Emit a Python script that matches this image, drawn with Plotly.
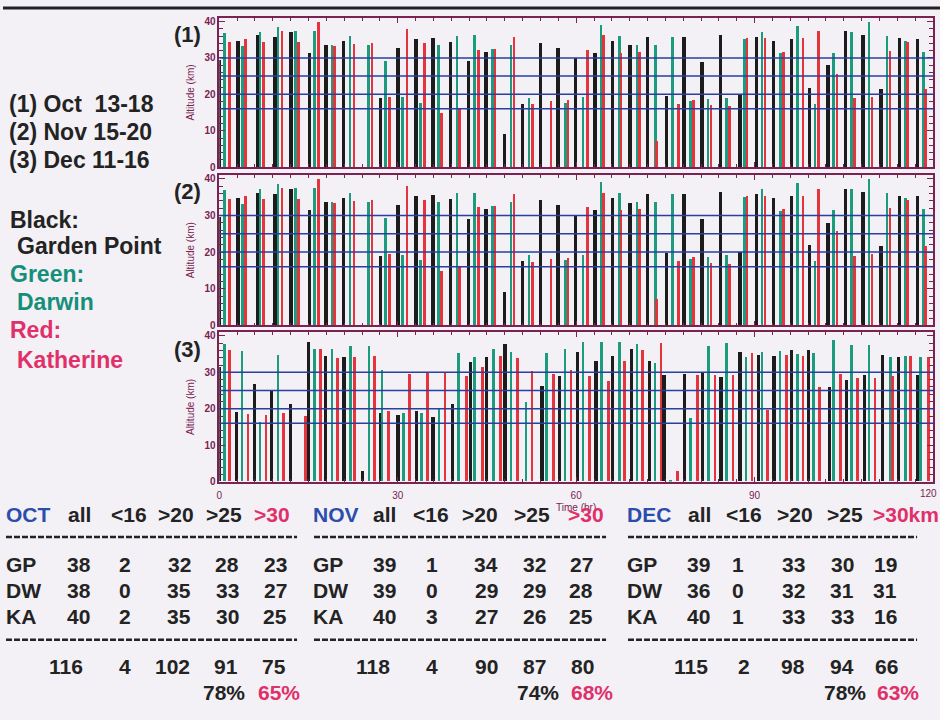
import plotly.graph_objects as go

# ---------------- data ----------------
# Panels (1) and (2): launch time (hr) and max altitude (km) per site
GP1_T = [0, 3.2, 6.5, 9.4, 12.1, 15.2, 18.0, 20.9, 27.1, 30.1, 33.1, 36.0, 38.9, 42.0, 44.9, 48.0, 51.0, 54.1, 57.0, 60.0,
         63.2, 66.2, 69.1, 72.1, 75.3, 78.2, 81.2, 84.3, 87.6, 90.4, 93.2, 96.3, 99.3, 102.4, 105.3, 108.3, 111.3, 114.4, 117.4]
GP1_A = [29.5, 34.7, 36.2, 35.8, 37.1, 31.5, 33.7, 34.7, 18.9, 32.8, 35.3, 35.6, 34.4, 29.1, 31.7, 9.1, 17.5, 34.2, 32.8, 29.9,
         31.5, 34.7, 33.5, 35.8, 19.7, 35.8, 29.0, 36.3, 20.0, 35.9, 34.8, 35.2, 21.9, 28.0, 37.3, 36.4, 21.6, 35.4, 35.3]
DW1_T = [0.9, 3.9, 6.9, 9.9, 12.9, 16.0, 19.0, 22.0, 25.1, 28.0, 30.9, 33.9, 36.9, 40.0, 43.0, 46.0, 49.1, 52.1, 58.3, 61.2,
         64.2, 67.3, 70.3, 73.4, 76.3, 79.3, 82.2, 85.3, 88.3, 91.3, 94.4, 97.3, 100.2, 103.3, 106.3, 109.3, 112.3, 115.4, 118.4]
DW1_A = [36.8, 33.2, 37.1, 38.5, 37.5, 37.5, 33.6, 36.0, 33.6, 29.3, 19.2, 17.7, 33.7, 36.0, 36.2, 32.6, 33.6, 19.1, 17.7, 19.3,
         39.1, 36.1, 33.7, 33.7, 35.7, 18.2, 18.7, 19.1, 35.1, 37.1, 31.3, 38.7, 17.5, 31.4, 37.1, 39.8, 36.1, 34.6, 31.8]
KA1_T = [1.8, 4.4, 7.5, 10.6, 13.4, 16.7, 19.4, 22.7, 25.7, 28.7, 31.6, 34.6, 37.4, 40.4, 43.6, 46.4, 49.6, 52.7, 55.8, 58.7,
         61.9, 64.6, 67.6, 70.7, 73.6, 77.3, 79.8, 82.7, 85.8, 88.8, 91.8, 94.9, 98.2, 100.8, 103.9, 106.9, 109.8, 112.8, 115.8, 118.8]
KA1_A = [34.4, 35.3, 34.4, 37.5, 34.4, 40.0, 33.4, 33.9, 34.2, 19.4, 38.0, 34.2, 14.8, 15.9, 32.3, 32.6, 35.8, 17.3, 18.2, 18.4,
         32.3, 36.2, 31.5, 31.8, 7.3, 17.5, 18.6, 17.0, 16.8, 35.4, 35.4, 31.8, 35.4, 37.3, 25.6, 19.0, 19.4, 32.0, 34.3, 21.6]

# Panel (3)
GP3_T = [0, 2.9, 6.0, 8.8, 12.0, 15.0, 17.9, 21.0, 24.1, 27.1, 30.1, 33.2, 36.0, 39.3, 42.3, 45.0, 48.1, 54.3, 57.2, 60.3,
         63.4, 66.2, 69.3, 72.4, 74.8, 78.3, 81.3, 84.4, 87.6, 90.7, 93.3, 96.3, 99.1, 102.7, 105.5, 108.5, 111.6, 114.3, 117.4]
GP3_A = [31.5, 19.0, 26.7, 25.2, 21.2, 38.3, 34.4, 34.0, 2.7, 18.8, 18.3, 19.2, 17.6, 21.3, 32.7, 34.0, 37.7, 26.2, 29.0, 35.4,
         33.1, 34.4, 36.3, 33.1, 29.2, 29.6, 30.1, 28.7, 35.4, 34.7, 34.4, 36.0, 36.0, 25.8, 27.8, 29.2, 34.6, 34.0, 29.2]
DW3_T = [0.9, 3.85, 6.9, 9.9, 16.0, 19.0, 22.1, 25.2, 27.4, 31.0, 34.0, 37.0, 40.3, 43.0, 46.1, 49.1, 51.6, 55.1, 58.2, 61.2,
         64.3, 67.3, 70.3, 73.3, 75.9, 79.3, 82.3, 85.3, 88.6, 91.3, 94.3, 97.3, 100.0, 103.3, 106.4, 109.3, 112.9, 115.4, 117.9]
DW3_A = [37.7, 35.9, 16.2, 34.8, 36.3, 36.3, 37.1, 37.1, 30.6, 18.7, 18.7, 19.9, 35.1, 34.2, 36.3, 35.4, 21.8, 35.1, 36.2, 38.2,
         38.2, 38.2, 37.7, 32.6, 0.5, 17.4, 37.2, 37.9, 34.0, 35.4, 35.9, 34.9, 35.3, 38.8, 37.4, 37.4, 34.0, 34.5, 34.2]
KA3_T = [1.8, 4.9, 7.9, 10.9, 14.5, 17.1, 19.9, 22.8, 26.1, 28.5, 32.0, 35.0, 38.0, 41.6, 44.3, 47.3, 50.2, 52.6, 56.2, 59.2,
         62.3, 65.5, 68.2, 71.2, 74.3, 77.1, 80.4, 83.4, 86.4, 89.6, 92.2, 95.4, 98.2, 101.0, 104.5, 107.4, 110.3, 113.2, 116.3, 119.3]
KA3_A = [36.0, 18.5, 18.3, 18.8, 18.0, 36.3, 33.9, 34.0, 34.4, 19.2, 29.6, 30.1, 29.9, 29.0, 31.5, 34.4, 33.9, 30.2, 29.6, 30.6,
         29.0, 27.6, 33.1, 36.0, 37.9, 2.7, 29.3, 29.3, 29.1, 35.1, 19.6, 34.6, 34.4, 25.8, 29.6, 28.5, 28.3, 29.0, 34.5, 34.0]

REF_LEVELS = [16, 20, 25, 30]
X_TICKS = [0, 30, 60, 90, 120]
Y_TICKS = [0, 10, 20, 30, 40]

PANEL_LABELS = ["(1)", "(2)", "(3)"]
PERIODS = ["(1) Oct\u00a0\u00a013-18", "(2) Nov 15-20", "(3) Dec 11-16"]
LEGEND_LINES = ["Black:", "Garden Point", "Green:", "Darwin", "Red:", "Katherine"]

MONTHS = ["OCT", "NOV", "DEC"]
COLS = ["all", "<16", ">20", ">25"]
LAST_COL = [">30", ">30", ">30km"]
SITES = ["GP", "DW", "KA"]
OCT_COUNTS = [[38, 2, 32, 28, 23], [38, 0, 35, 33, 27], [40, 2, 35, 30, 25]]
NOV_COUNTS = [[39, 1, 34, 32, 27], [39, 0, 29, 29, 28], [40, 3, 27, 26, 25]]
DEC_COUNTS = [[39, 1, 33, 30, 19], [36, 0, 32, 31, 31], [40, 1, 33, 33, 16]]
OCT_TOTALS = [116, 4, 102, 91, 75]
NOV_TOTALS = [118, 4, 90, 87, 80]
DEC_TOTALS = [115, 2, 98, 94, 66]
OCT_PCT = ["78%", "65%"]
NOV_PCT = ["74%", "68%"]
DEC_PCT = ["78%", "63%"]

# ---------------- style ----------------
W, H = 940, 720
BG = "#f3f1f6"
MAROON = "#7a2352"
BLACK = "#1c1c1c"
GREEN = "#1b9c7e"
RED = "#e6343c"
BLUE = "#2a3f9e"
TXT = "#232323"
MBLUE = "#2b4dab"
MRED = "#e0306a"
TEAL = "#168f7a"
FONT = "Liberation Sans, Arial, sans-serif"


def px(x):
    return x / W


def py(y):
    return 1 - y / H


panels = [
    (GP1_T, GP1_A, DW1_T, DW1_A, KA1_T, KA1_A, (16, 167)),
    (GP1_T, GP1_A, DW1_T, DW1_A, KA1_T, KA1_A, (175, 327)),
    (GP3_T, GP3_A, DW3_T, DW3_A, KA3_T, KA3_A, (334, 485)),
]

fig = go.Figure()
shapes = []
annotations = []
layout_axes = {}

for i, (gt, ga, dt, da, kt, ka, (top, bot)) in enumerate(panels):
    n = "" if i == 0 else str(i + 1)
    xa, ya = "x" + n, "y" + n
    for t, a, col, w in [(gt, ga, BLACK, 0.55), (dt, da, GREEN, 0.45), (kt, ka, RED, 0.45)]:
        fig.add_trace(go.Bar(x=t, y=a, width=w, marker=dict(color=col, line=dict(width=0)),
                             xaxis=xa, yaxis=ya, showlegend=False, hoverinfo="x+y"))
    layout_axes["xaxis" + n] = dict(
        domain=[px(217), px(933)], range=[0, 120], anchor=ya,
        showline=True, linecolor=MAROON, linewidth=1.5, mirror="ticks",
        ticks="inside", ticklen=5, tickcolor=MAROON, tickwidth=1,
        tickvals=X_TICKS[:-1], showticklabels=(i == 2), ticklabelstandoff=4,
        tickfont=dict(size=10, color=MAROON, family=FONT),
        minor=dict(dtick=3, tick0=0, ticks="inside", ticklen=3, tickcolor=MAROON),
        showgrid=False, zeroline=False,
    )
    if i == 2:
        layout_axes["xaxis" + n]["title"] = dict(text="Time (hr)", font=dict(size=10, color=MAROON, family=FONT), standoff=4)
    layout_axes["yaxis" + n] = dict(
        domain=[py(bot), py(top)], range=[0, 41], anchor=xa,
        showline=True, linecolor=MAROON, linewidth=1.5, mirror="ticks",
        ticks="inside", ticklen=6, tickcolor=MAROON, tickwidth=1,
        tickvals=Y_TICKS, tickfont=dict(size=10, color=MAROON, family=FONT, weight="bold"),
        minor=dict(dtick=2, ticks="inside", ticklen=4, tickcolor=MAROON),
        showgrid=False, zeroline=False,
        title=dict(text="Altitude (km)", font=dict(size=10, color=MAROON, family=FONT), standoff=8),
    )
    for lv in REF_LEVELS:
        shapes.append(dict(type="line", xref=xa, yref=ya, x0=0, x1=120, y0=lv, y1=lv,
                           line=dict(color=BLUE, width=1.5), layer="above"))
    annotations.append(dict(text=PANEL_LABELS[i], x=px(170), y=py(top + 17), xref="paper", yref="paper",
                            xanchor="left", yanchor="middle", showarrow=False,
                            font=dict(size=22, color=TXT, family=FONT, weight="bold")))

# last x tick label, kept inside the page edge
annotations.append(dict(text=str(X_TICKS[-1]), x=1, y=py(497), xref="paper", yref="paper",
                        xanchor="right", yanchor="middle", showarrow=False, xshift=-1,
                        font=dict(size=10, color=MAROON, family=FONT)))

# top rule
shapes.append(dict(type="line", xref="paper", yref="paper", x0=0, x1=1, y0=py(6), y1=py(6),
                   line=dict(color="#222", width=3)))

# left labels
for j, s in enumerate(PERIODS):
    annotations.append(dict(text=s, x=px(4), y=py([103, 131, 160][j]), xref="paper", yref="paper",
                            xanchor="left", yanchor="middle", showarrow=False,
                            font=dict(size=23, color=TXT, family=FONT, weight="bold")))
leg_cols = [TXT, TXT, TEAL, TEAL, MRED, MRED]
leg_y = [220, 247, 275, 303, 332, 362]
for j, s in enumerate(LEGEND_LINES):
    annotations.append(dict(text=s, x=px(5 if j % 2 == 0 else 12), y=py(leg_y[j]), xref="paper", yref="paper",
                            xanchor="left", yanchor="middle", showarrow=False,
                            font=dict(size=23, color=leg_cols[j], family=FONT, weight="bold")))

# table
blocks = [
    dict(m=0, counts=OCT_COUNTS, tot=OCT_TOTALS, pct=OCT_PCT, lx=1,
         hx=[77, 126, 174, 222, 270], rx=[76, 122, 177, 225, 273], tx=[63, 122, 170, 224, 272], pxs=[222, 277],
         dash=(3, 295)),
    dict(m=1, counts=NOV_COUNTS, tot=NOV_TOTALS, pct=NOV_PCT, lx=309,
         hx=[383, 429, 479, 531, 585], rx=[383, 430, 485, 533, 580], tx=[371, 430, 485, 533, 581], pxs=[537, 591],
         dash=(312, 605)),
    dict(m=2, counts=DEC_COUNTS, tot=DEC_TOTALS, pct=DEC_PCT, lx=624,
         hx=[699, 743, 795, 845, 906], rx=[698, 737, 793, 842, 885], tx=[690, 743, 793, 842, 886], pxs=[845, 898],
         dash=(627, 917)),
]
TF = dict(size=21, family=FONT, weight="bold")


def txt(s, x, y, color=TXT, anchor="center"):
    annotations.append(dict(text=s, x=px(x), y=py(y), xref="paper", yref="paper", xanchor=anchor,
                            yanchor="middle", showarrow=False, font=dict(color=color, **TF)))


for b in blocks:
    txt(MONTHS[b["m"]], b["lx"], 518, MBLUE, "left")
    for c, name in enumerate(COLS):
        txt(name, b["hx"][c], 518)
    txt(LAST_COL[b["m"]], b["hx"][4], 518, MRED)
    for r, site in enumerate(SITES):
        yy = [569, 595, 621][r]
        txt(site, b["lx"], yy, TXT, "left")
        for c, v in enumerate(b["counts"][r]):
            txt(str(v), b["rx"][c], yy)
    for c, v in enumerate(b["tot"]):
        txt(str(v), b["tx"][c], 672)
    txt(b["pct"][0], b["pxs"][0], 698)
    txt(b["pct"][1], b["pxs"][1], 698, MRED)
    for yy in (541, 645):
        shapes.append(dict(type="line", xref="paper", yref="paper", x0=px(b["dash"][0]), x1=px(b["dash"][1]),
                           y0=py(yy), y1=py(yy), line=dict(color=TXT, width=2.5, dash="6px,2px")))

fig.update_layout(
    width=W, height=H, margin=dict(l=0, r=0, t=0, b=0),
    paper_bgcolor=BG, plot_bgcolor=BG,
    barmode="overlay", bargap=0,
    shapes=shapes, annotations=annotations,
    font=dict(family=FONT),
    **layout_axes,
)

fig.write_html("out.html")
